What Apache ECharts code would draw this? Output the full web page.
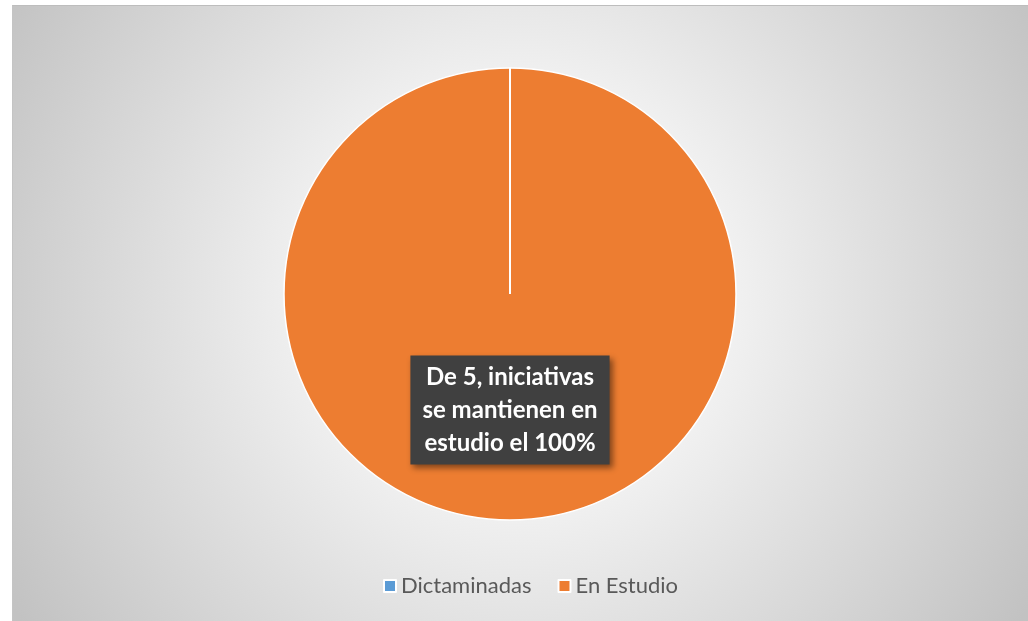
<!DOCTYPE html>
<html>
<head>
<meta charset="utf-8">
<script src="https://cdn.jsdelivr.net/npm/echarts@6/dist/echarts.min.js"></script>
<style>
html,body{margin:0;padding:0;background:#fff;}
#chart{position:absolute;left:12px;top:5px;width:1016px;height:616px;border-top:1px solid #bdbdbd;border-left:1px solid #c4c4c4;box-sizing:border-box;}
</style>
</head>
<body>
<div id="chart"></div>
<script>
const categories = ['Dictaminadas', 'En Estudio'];
const values = [0, 5];
const colors = ['#5b9bd5', '#ed7d31'];
const labelText = 'De 5, iniciativas\nse mantienen en\nestudio el 100%';

const total = values.reduce((a, b) => a + b, 0);
// slice boundaries (cumulative values) drawn as white separators
const boundaries = [];
let acc = 0;
values.forEach(v => { boundaries.push(acc); acc += v; });

const CENTER = [497, 288];
const R = 226;

const chart = echarts.init(document.getElementById('chart'));
chart.setOption({
  backgroundColor: {
    type: 'radial', x: 0.5, y: 0.47, r: 0.97,
    colorStops: [
      {offset: 0, color: '#ffffff'},
      {offset: 0.3, color: '#f5f5f5'},
      {offset: 1, color: '#c2c2c2'}
    ]
  },
  animation: false,
  legend: {
    bottom: 19,
    left: 365,
    itemWidth: 12, itemHeight: 12, itemGap: 26,
    icon: 'rect',
    textStyle: {fontFamily: 'Lato', fontSize: 22, color: '#595959'},
    data: categories
  },
  polar: {center: CENTER, radius: R},
  angleAxis: {type: 'value', min: 0, max: total, startAngle: 90, clockwise: true, show: false},
  radiusAxis: {type: 'value', min: 0, max: 1, show: false},
  series: [{
    type: 'pie',
    center: CENTER,
    radius: [0, R],
    startAngle: 90,
    clockwise: true,
    stillShowZeroSum: true,
    avoidLabelOverlap: false,
    itemStyle: {borderColor: '#ffffff', borderWidth: 1.5},
    labelLine: {show: false},
    z: 2,
    data: categories.map((c, i) => ({
      name: c, value: values[i],
      itemStyle: {color: colors[i]},
      label: i === 1 ? {
        show: true, position: 'inside',
        formatter: labelText,
        fontFamily: 'Lato', fontWeight: 'bold', fontSize: 24, lineHeight: 33,
        color: '#ffffff',
        backgroundColor: '#404040',
        padding: [4, 12, 6, 12],
        shadowColor: 'rgba(0,0,0,0.45)', shadowBlur: 6, shadowOffsetX: 3, shadowOffsetY: 3
      } : {show: false}
    }))
  }].concat(boundaries.filter((b, i) => values[i] === 0).map(b => ({
    type: 'line',
    coordinateSystem: 'polar',
    data: [[0, b], [1, b]],
    symbol: 'none',
    silent: true,
    z: 3,
    lineStyle: {color: '#ffffff', width: 2}
  })))
});
</script>
</body>
</html>
